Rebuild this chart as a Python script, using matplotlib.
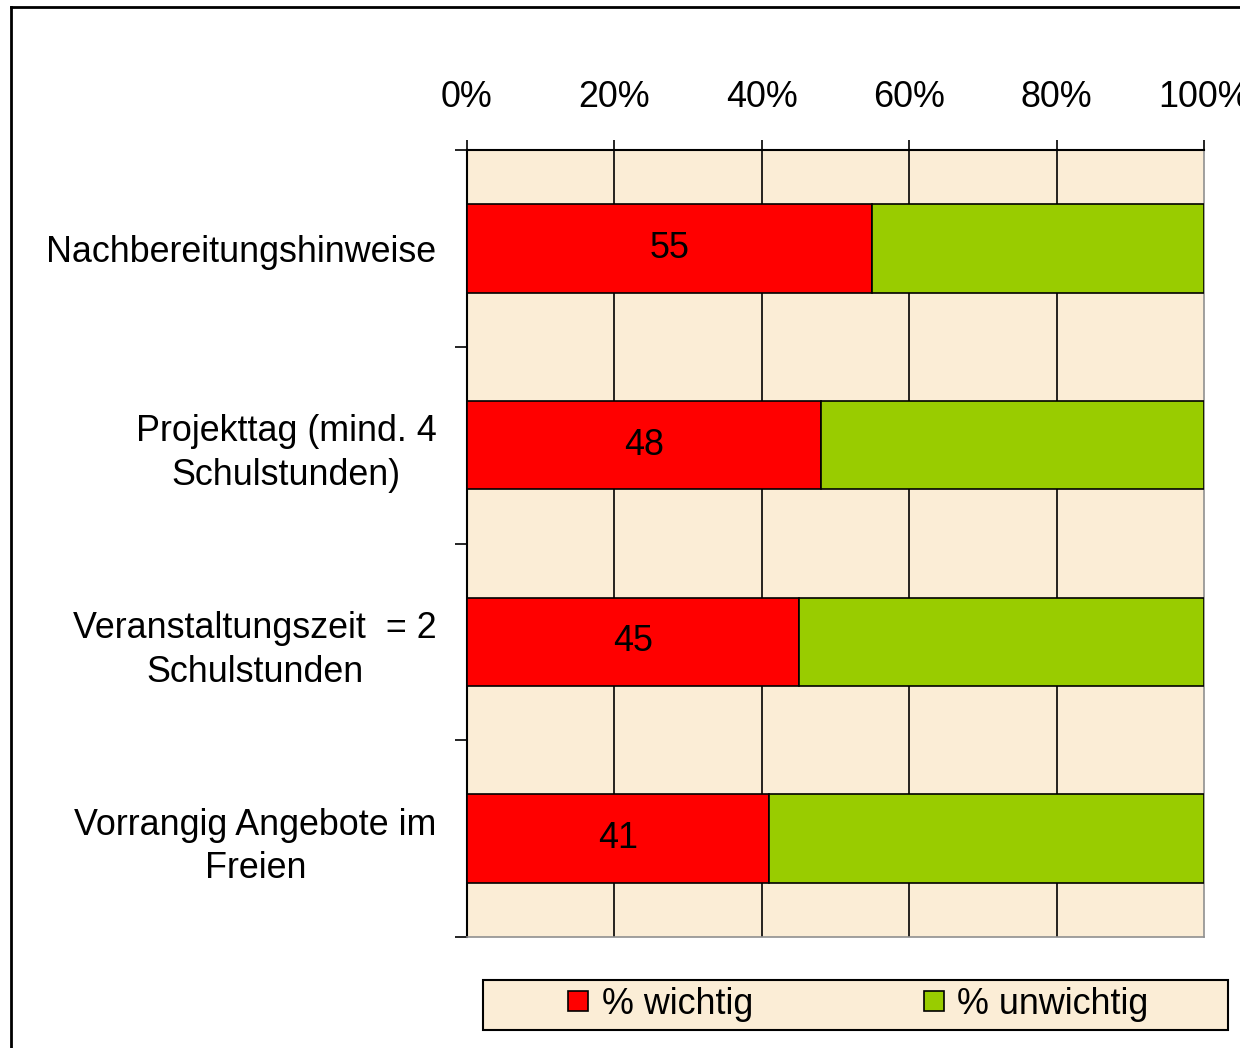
import matplotlib
matplotlib.use("Agg")
import matplotlib.pyplot as plt
from matplotlib.lines import Line2D
from matplotlib.patches import Rectangle
import numpy as np

plt.rcParams['font.family'] = ['Liberation Sans', 'DejaVu Sans']

categories = ["Nachbereitungshinweise", "Projekttag (mind. 4\nSchulstunden)",
              "Veranstaltungszeit  = 2\nSchulstunden", "Vorrangig Angebote im\nFreien"]
wichtig = [55, 48, 45, 41]
unwichtig = [45, 52, 55, 59]
series_names = ["% wichtig", "% unwichtig"]
colors = ["#FF0000", "#99CC00"]
xticks = [0, 20, 40, 60, 80, 100]
xticklabels = ["0%", "20%", "40%", "60%", "80%", "100%"]

FS = 25.8
bg = "#FBEDD6"

fig = plt.figure(figsize=(12.4, 10.48), dpi=100)
ax = fig.add_axes([467/1240, 1-937/1048, (1204-467)/1240, (937-150)/1048])
ax.set_facecolor(bg)

y = np.arange(len(categories))
h = 0.45
ax.barh(y, wichtig, height=h, color=colors[0], edgecolor="black", linewidth=1.2, zorder=3)
ax.barh(y, unwichtig, left=wichtig, height=h, color=colors[1], edgecolor="black", linewidth=1.2, zorder=3)
for yi, v in zip(y, wichtig):
    ax.text(v/2, yi, str(v), ha="center", va="center", fontsize=FS, color="black", zorder=4)

ax.set_xlim(0, 100)
ax.set_ylim(len(categories)-0.5, -0.5)
ax.xaxis.tick_top()
ax.set_xticks(xticks)
ax.set_xticklabels(xticklabels, fontsize=FS)
ax.tick_params(axis="x", direction="out", length=7, width=1.2, pad=18, colors="black")
ax.set_yticks(np.arange(-0.5, len(categories)+0.5, 1.0), minor=False)
ax.set_yticklabels([])
ax.set_yticks(y, minor=True)
ax.set_yticklabels(categories, minor=True, fontsize=FS, ha="right", multialignment="center", linespacing=1.32)
ax.tick_params(axis="y", which="major", direction="out", length=9, width=1.2)
ax.tick_params(axis="y", which="minor", length=0, pad=22)

for xv in xticks[1:-1]:
    ax.axvline(xv, color="black", linewidth=1.2, zorder=1)

ax.spines["top"].set_color("black")
ax.spines["left"].set_color("black")
ax.spines["top"].set_linewidth(1.5)
ax.spines["left"].set_linewidth(1.5)
ax.spines["right"].set_color("#909090")
ax.spines["bottom"].set_color("#909090")
ax.spines["right"].set_linewidth(1.2)
ax.spines["bottom"].set_linewidth(1.2)

# legend box
fig.patches.append(Rectangle((483/1240, 1-1030/1048), (1228-483)/1240, 50/1048,
                             transform=fig.transFigure, facecolor=bg, edgecolor="black",
                             linewidth=1.5, zorder=0))
handles = [Line2D([], [], marker="s", linestyle="", markersize=14, markerfacecolor=c,
                  markeredgecolor="black", markeredgewidth=1.2) for c in colors]
leg = fig.legend(handles, series_names, loc="center",
                 bbox_to_anchor=((483+1228)/2/1240 + 0.002, 1-1004/1048), ncol=2, frameon=False,
                 fontsize=FS, handlelength=0.6, handletextpad=0.35, columnspacing=4.75,
                 borderpad=0)

# outer border (left/top)
fig.lines.append(Line2D([11/1240, 11/1240], [0, 1-7/1048], transform=fig.transFigure,
                        color="black", linewidth=2))
fig.lines.append(Line2D([11/1240, 1], [1-7/1048, 1-7/1048], transform=fig.transFigure,
                        color="black", linewidth=2))

fig.savefig("out.png", dpi=100, facecolor="white")
